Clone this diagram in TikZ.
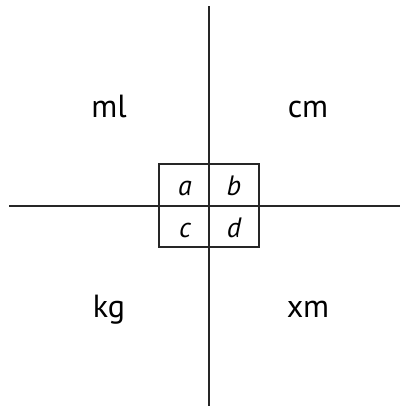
\documentclass[tikz,border=0pt]{standalone}
\usepackage{fontspec}
\setmainfont{PT Sans}
\begin{document}
\begin{tikzpicture}[x=1pt,y=-1pt,
  ln/.style={line width=2.2pt,black!85},
  big/.style={font=\fontsize{32}{36}\selectfont,anchor=base,inner sep=0pt},
  lett/.style={font=\fontsize{28}{32}\selectfont\itshape,anchor=base,inner sep=0pt}]
\useasboundingbox (0,0) rectangle (400,408);
\coordinate (top) at (209,6);
\coordinate (bot) at (209,406);
\coordinate (lft) at (9,206);
\coordinate (rgt) at (400,206);
\coordinate (b1) at (159,164);
\coordinate (b2) at (259,247);
\draw[ln] (top) -- (bot);
\draw[ln] (lft) -- (rgt);
\draw[ln] (b1) rectangle (b2);
\node[big] (ml) at (109,117) {ml};
\node[big] (cm) at (308,117) {cm};
\node[big] (kg) at (109,317) {kg};
\node[big] (xm) at (308,317) {xm};
\node[lett] (a) at (185,195) {a};
\node[lett] (b) at (234,195) {b};
\node[lett] (c) at (185,237) {c};
\node[lett] (d) at (234,237) {d};
\end{tikzpicture}
\end{document}
